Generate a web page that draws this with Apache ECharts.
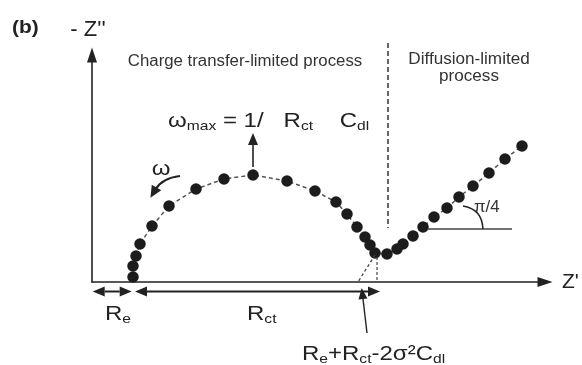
<!DOCTYPE html>
<html><head><meta charset="utf-8">
<script src="https://cdn.jsdelivr.net/npm/echarts@6/dist/echarts.min.js"></script>
<style>html,body{margin:0;padding:0;background:#fff}#c{width:582px;height:365px}</style>
</head><body><div id="c"></div>
<script>
// Charge-transfer semicircle (Z', -Z'')
const semiRe = [4.1, 4.1, 4.4, 4.8, 6.0, 7.7, 10.4, 13.2, 16.1, 19.5, 22.3, 24.4, 25.5, 26.5, 27.3, 27.8, 28.3];
const semiIm = [0.5, 1.6, 2.6, 3.8, 5.6, 7.6, 9.3, 10.3, 10.7, 10.1, 9.1, 8.0, 6.8, 5.5, 4.5, 3.7, 2.9];
// Warburg diffusion line
const diffRe = [29.5, 30.5, 31.1, 32.1, 33.1, 34.2, 35.5, 36.7, 38.1, 39.7, 41.3, 43.0];
const diffIm = [2.8, 3.3, 3.8, 4.6, 5.5, 6.5, 7.4, 8.5, 9.6, 10.9, 12.3, 13.6];
// characteristic resistances on the Z' axis
const Re = 4.0;
const ReRct = 28.8;
const xAxisName = "Z'";
const yAxisName = "- Z''";

const F = 'Liberation Sans, Arial, Helvetica, sans-serif';
const INK = '#222';
const points = semiRe.map((x, i) => [x, semiIm[i]]).concat(diffRe.map((x, i) => [x, diffIm[i]]));

const chart = echarts.init(document.getElementById('c'));
const axisCommon = {
  type: 'value', min: 0, nameLocation: 'end',
  axisLine: { show: true, onZero: false, symbol: ['none', 'triangle'], symbolSize: [10, 15], lineStyle: { color: INK, width: 1.6 } },
  axisTick: { show: false }, axisLabel: { show: false }, splitLine: { show: false }
};
chart.setOption({
  animation: false,
  backgroundColor: '#fff',
  grid: { left: 92, right: 37, top: 55, bottom: 83 },
  xAxis: Object.assign({}, axisCommon, {
    max: 45.3, name: xAxisName, nameGap: 17,
    nameTextStyle: { fontFamily: F, fontSize: 21, color: INK, verticalAlign: 'middle' }
  }),
  yAxis: Object.assign({}, axisCommon, {
    max: 22.7, name: yAxisName, nameGap: 14,
    nameTextStyle: { fontFamily: F, fontSize: 22, color: INK, align: 'center', padding: [0, 8, 0, 0] }
  }),
  series: [{
    type: 'line', data: points, symbol: 'circle', symbolSize: 11.5, z: 3,
    itemStyle: { color: '#1c1c1c' },
    lineStyle: { type: [4, 3], width: 1.5, color: '#555' }
  }]
});

const P = (x, y) => chart.convertToPixel({ gridIndex: 0 }, [x, y]);
const g = [];
function seg(a, b, style) {
  g.push({ type: 'line', silent: true, z: 10, shape: { x1: a[0], y1: a[1], x2: b[0], y2: b[1] },
    style: Object.assign({ stroke: INK, lineWidth: 1.6 }, style || {}) });
}
function head(tip, from, len, hw) {
  const dx = tip[0] - from[0], dy = tip[1] - from[1], d = Math.hypot(dx, dy);
  const ux = dx / d, uy = dy / d;
  const bx = tip[0] - ux * len, by = tip[1] - uy * len;
  g.push({ type: 'polygon', silent: true, z: 11, shape: { points: [tip, [bx - uy * hw, by + ux * hw], [bx + uy * hw, by - ux * hw]] }, style: { fill: INK } });
  return [bx, by];
}
function dbl(a, b) {
  const a2 = head(a, b, 12, 5), b2 = head(b, a, 12, 5);
  seg(a2, b2, { lineWidth: 2 });
}
function txt(x, y, t, st, sx) {
  g.push({ type: 'text', silent: true, z: 12, x: x, y: y, scaleX: sx || 1,
    style: Object.assign({ text: t, fill: INK, fontFamily: F, fontSize: 16 }, st || {}) });
}
const main = (s) => ({ fontSize: s, fontFamily: F, fill: INK, lineHeight: 24, verticalAlign: 'middle' });
const sub = { fontSize: 13, fontFamily: F, fill: INK, lineHeight: 12, verticalAlign: 'bottom' };

// R_e and R_ct dimension arrows under the axis
dbl(P(0.07, -0.95), P(Re - 0.03, -0.95));
dbl(P(Re + 0.3, -0.95), P(ReRct, -0.95));
// pointer to Re+Rct-2σ²Cdl
const pb = P(27.5, -5.1), pt = P(26.97, -0.6);
const pbase = head(pt, pb, 11, 4.5);
seg(pb, pbase, { lineWidth: 1.4 });
// extrapolation of the diffusion line and small vertical drop
seg(P(28.3, 2.7), P(26.6, 0), { lineDash: [3, 2.5], lineWidth: 1.3, stroke: '#444' });
seg(P(28.5, 2.5), P(28.5, 0), { lineDash: [3, 2], lineWidth: 1.2, stroke: '#444' });
// separator between the two regimes
seg(P(29.6, 23.9), P(29.6, 5.4), { lineDash: [5, 3], lineWidth: 1.5, stroke: '#333' });
// π/4 reference line and arc
seg(P(33.6, 5.3), P(42.0, 5.3), { lineWidth: 1.4, stroke: '#444' });
const a0 = P(37.1, 7.6), ac = P(39.0, 7.3), a1 = P(39.1, 5.3);
g.push({ type: 'bezierCurve', silent: true, z: 10, shape: { x1: a0[0], y1: a0[1], x2: a1[0], y2: a1[1], cpx1: ac[0], cpy1: ac[1] }, style: { stroke: INK, lineWidth: 1.5, fill: null } });
// ω_max arrow
const mTip = P(16.1, 14.9), mBot = P(16.1, 11.5);
const mBase = head(mTip, mBot, 12, 5);
seg(mBot, mBase, { lineWidth: 1.6 });
// ω curved arrow
const w0 = P(8.8, 10.6), wc = P(7.0, 10.4), w1 = P(6.3, 9.2);
g.push({ type: 'bezierCurve', silent: true, z: 10, shape: { x1: w0[0], y1: w0[1], x2: w1[0], y2: w1[1], cpx1: wc[0], cpy1: wc[1] }, style: { stroke: INK, lineWidth: 2, fill: null } });
const wdx = w1[0] - wc[0], wdy = w1[1] - wc[1], wd = Math.hypot(wdx, wdy);
head([w1[0] + wdx / wd * 9, w1[1] + wdy / wd * 9], w1, 12, 5.5);

// texts
const L = { align: 'left', textAlign: 'left', verticalAlign: 'middle', textVerticalAlign: 'middle' };
const C = { align: 'center', textAlign: 'center', verticalAlign: 'middle', textVerticalAlign: 'middle' };
txt(12, 28, '(b)', Object.assign({ fontSize: 19, fontWeight: 'bold' }, L), 1.1);
txt(245, 62, 'Charge transfer-limited process', Object.assign({ fill: '#333' }, C), 1.05);
txt(469, 68, 'Diffusion-limited\nprocess', Object.assign({ fill: '#333', lineHeight: 17 }, C), 1.07);
txt(168, 109, '{m|ω}{s|max}{m| = 1/   R}{s|ct}{m|    C}{s|dl}', { rich: { m: main(20), s: sub } }, 1.2);
txt(161, 169, 'ω', Object.assign({ fontSize: 20 }, C), 1.2);
txt(474, 208, 'π/4', Object.assign({ fontSize: 16, fill: '#333' }, L), 1.05);
txt(105, 302, '{m|R}{s|e}', { rich: { m: main(20), s: sub } }, 1.2);
txt(247, 302, '{m|R}{s|ct}', { rich: { m: main(20), s: sub } }, 1.2);
txt(302, 342, '{m|R}{s|e}{m|+R}{s|ct}{m|-2σ²C}{s|dl}', { rich: { m: main(20), s: sub } }, 1.2);

chart.setOption({ graphic: { elements: g } });
</script>
</body></html>
